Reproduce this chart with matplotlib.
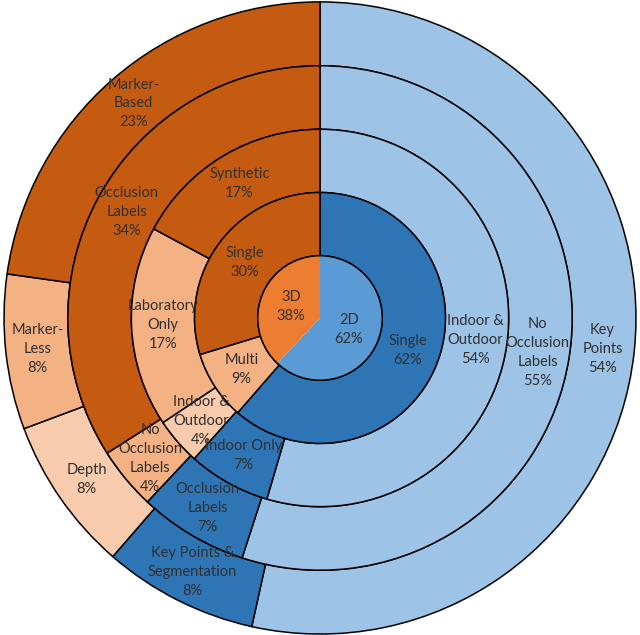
import matplotlib.pyplot as plt
from matplotlib.patches import Circle
import numpy as np

plt.rcParams['font.family'] = ['Lato', 'DejaVu Sans']

# rings from the centre outwards, clockwise from 12 o'clock
dim_labels = ["2D", "3D"]
dim_pct = [62, 38]

view_labels = ["Single", "Multi", "Single"]
view_pct = [62, 9, 30]

env_labels = ["Indoor &\nOutdoor", "Indoor Only", "Indoor &\nOutdoor", "Laboratory\nOnly", "Synthetic"]
env_pct = [54, 7, 4, 17, 17]

occ_labels = ["No\nOcclusion\nLabels", "Occlusion\nLabels", "No\nOcclusion\nLabels", "Occlusion\nLabels"]
occ_pct = [55, 7, 4, 34]

ann_labels = ["Key\nPoints", "Key Points &\nSegmentation", "Depth", "Marker-\nLess", "Marker-\nBased"]
ann_pct = [54, 8, 8, 8, 23]

BLUE = "#5B9BD5"
DBLUE = "#2E75B6"
LBLUE = "#9DC3E6"
ORANGE = "#ED7D31"
DORANGE = "#C55A11"
LORANGE = "#F4B183"
VLORANGE = "#F8CBAD"

rings = [
    (dim_labels, dim_pct, [BLUE, ORANGE]),
    (view_labels, view_pct, [DBLUE, LORANGE, DORANGE]),
    (env_labels, env_pct, [LBLUE, DBLUE, VLORANGE, LORANGE, DORANGE]),
    (occ_labels, occ_pct, [LBLUE, DBLUE, LORANGE, DORANGE]),
    (ann_labels, ann_pct, [LBLUE, DBLUE, VLORANGE, LORANGE, DORANGE]),
]
radii = [0.197, 0.397, 0.597, 0.798, 1.0]

fig = plt.figure(figsize=(6.4, 6.35), dpi=100)
ax = fig.add_axes([0, 0, 1, 1])

# draw outer rings first so inner ones sit on top
for i in range(len(rings) - 1, -1, -1):
    labels, vals, cols = rings[i]
    r = radii[i]
    if i == 0:
        wedges, _ = ax.pie(vals, radius=r, colors=cols, startangle=90, counterclock=False,
                           wedgeprops=dict(linewidth=0))
        ax.add_patch(Circle((0, 0), r, fill=False, edgecolor='black', linewidth=1.1, zorder=5))
        rmid = r * 0.5
    else:
        w = r - radii[i - 1]
        wedges, _ = ax.pie(vals, radius=r, colors=cols, startangle=90, counterclock=False,
                           wedgeprops=dict(width=w, edgecolor='black', linewidth=1.1))
        rmid = r - w / 2
    for wdg, lab, v in zip(wedges, labels, vals):
        ang = np.deg2rad((wdg.theta1 + wdg.theta2) / 2)
        ax.text(rmid * np.cos(ang), rmid * np.sin(ang), f"{lab}\n{v}%",
                ha='center', va='center', fontsize=10.5, color='#303030',
                linespacing=1.45, zorder=6)

ax.set_xlim(-1.0127, 1.0127)
ax.set_ylim(-1.003, 1.006)
ax.set_aspect('auto')
ax.axis('off')

fig.savefig('out.png', dpi=100)
